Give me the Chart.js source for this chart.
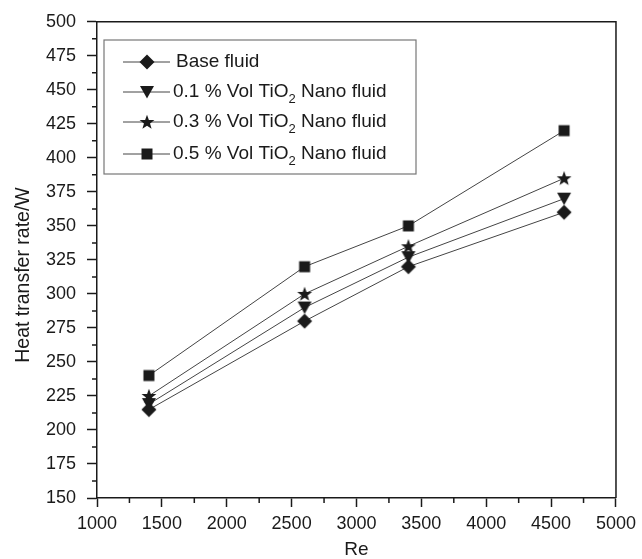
<!DOCTYPE html>
<html>
<head>
<meta charset="utf-8">
<script src="https://cdn.jsdelivr.net/npm/chart.js@4"></script>
<style>
  body { margin: 0; background: #fff; }
  #wrap { width: 642px; height: 559px; }
</style>
</head>
<body>
<div id="wrap"><canvas id="myChart"></canvas></div>
<script>
const reynolds = [1400, 2600, 3400, 4600];

const baseFluid = [215, 280, 320, 360];
const tio2_01 = [219, 290, 327, 370];
const tio2_03 = [225, 300, 335, 385];
const tio2_05 = [240, 320, 350, 420];

const seriesNames = [
  'Base fluid',
  '0.1 % Vol TiO₂ Nano fluid',
  '0.3 % Vol TiO₂ Nano fluid',
  '0.5 % Vol TiO₂ Nano fluid',
];
const seriesShapes = ['diamond', 'triangleDown', 'star', 'square'];

const xTicks = [1000, 1500, 2000, 2500, 3000, 3500, 4000, 4500, 5000];
const yTicks = [150, 175, 200, 225, 250, 275, 300, 325, 350, 375, 400, 425, 450, 475, 500];

const FONT = 'Liberation Sans, Arial, sans-serif';
const INK = '#1a1a1a';

// marker images
function makeMarker(shape) {
  const c = document.createElement('canvas');
  c.width = 20; c.height = 20;
  const g = c.getContext('2d');
  g.fillStyle = INK;
  g.beginPath();
  if (shape === 'diamond') {
    g.moveTo(10, 2.5); g.lineTo(17.5, 10); g.lineTo(10, 17.5); g.lineTo(2.5, 10);
  } else if (shape === 'triangleDown') {
    g.moveTo(3, 4); g.lineTo(17, 4); g.lineTo(10, 16.5);
  } else if (shape === 'square') {
    g.rect(4.5, 4.5, 11, 11);
  } else if (shape === 'star') {
    for (let i = 0; i < 10; i++) {
      const r = i % 2 === 0 ? 7.8 : 3.2;
      const a = -Math.PI / 2 + i * Math.PI / 5;
      const px = 10 + r * Math.cos(a), py = 10.5 + r * Math.sin(a);
      if (i === 0) g.moveTo(px, py); else g.lineTo(px, py);
    }
  }
  g.closePath();
  g.fill();
  return c;
}
const markers = seriesShapes.map(makeMarker);

const values = [baseFluid, tio2_01, tio2_03, tio2_05];

const data = {
  datasets: values.map((vals, i) => ({
    label: seriesNames[i],
    data: reynolds.map((x, j) => ({ x: x, y: vals[j] })),
    borderColor: '#444',
    borderWidth: 1,
    pointStyle: markers[i],
    pointRadius: 9,
    pointHoverRadius: 9,
    showLine: true,
    fill: false,
  }))
};

// frame, minor ticks, y title and legend box
const extras = {
  id: 'extras',
  afterDraw(chart) {
    const ctx = chart.ctx;
    const a = chart.chartArea;
    const xs = chart.scales.x, ys = chart.scales.y;
    ctx.save();
    ctx.strokeStyle = INK;
    ctx.lineWidth = 1.5;
    ctx.beginPath();
    ctx.moveTo(a.left, a.top); ctx.lineTo(a.right, a.top); ctx.lineTo(a.right, a.bottom);
    ctx.stroke();

    // minor ticks
    ctx.beginPath();
    for (let i = 0; i < xTicks.length - 1; i++) {
      const px = xs.getPixelForValue((xTicks[i] + xTicks[i + 1]) / 2);
      ctx.moveTo(px, a.bottom); ctx.lineTo(px, a.bottom + 5);
    }
    for (let i = 0; i < yTicks.length - 1; i++) {
      const py = ys.getPixelForValue((yTicks[i] + yTicks[i + 1]) / 2);
      ctx.moveTo(a.left, py); ctx.lineTo(a.left - 5, py);
    }
    ctx.stroke();

    // y axis title
    ctx.save();
    ctx.translate(24, 275);
    ctx.rotate(-Math.PI / 2);
    ctx.fillStyle = INK;
    ctx.font = '19.5px ' + FONT;
    ctx.textAlign = 'center';
    ctx.textBaseline = 'middle';
    ctx.fillText('Heat transfer rate/W', 0, 0);
    ctx.restore();

    // legend
    const bx = 104, by = 40, bw = 312, bh = 134;
    ctx.strokeStyle = '#777';
    ctx.lineWidth = 1.2;
    ctx.strokeRect(bx, by, bw, bh);
    const rows = [62, 92, 122, 154];
    ctx.textBaseline = 'middle';
    chart.data.datasets.forEach((ds, i) => {
      const y = rows[i];
      ctx.strokeStyle = '#444';
      ctx.lineWidth = 1;
      ctx.beginPath();
      ctx.moveTo(123, y); ctx.lineTo(170, y);
      ctx.stroke();
      const m = markers[i];
      ctx.drawImage(m, 147 - m.width / 2, y - m.height / 2);
      ctx.fillStyle = INK;
      let tx = i === 0 ? 176 : 173;
      const parts = ds.label.split('₂');
      parts.forEach((p, k) => {
        ctx.font = '19px ' + FONT;
        ctx.fillText(p, tx, y);
        tx += ctx.measureText(p).width;
        if (k < parts.length - 1) {
          ctx.font = '13px ' + FONT;
          ctx.fillText('2', tx, y + 7);
          tx += ctx.measureText('2').width;
        }
      });
    });
    ctx.restore();
  }
};

const config = {
  type: 'scatter',
  data: data,
  options: {
    responsive: true,
    maintainAspectRatio: false,
    animation: false,
    layout: { padding: { top: 18, right: 26, left: 0, bottom: 0 } },
    plugins: {
      legend: { display: false },
      tooltip: { enabled: false },
    },
    scales: {
      x: {
        type: 'linear',
        min: 1000,
        max: 5000,
        afterFit: (s) => { s.height = 61; },
        afterBuildTicks: (s) => { s.ticks = xTicks.map(v => ({ value: v })); },
        ticks: { color: INK, font: { family: FONT, size: 18 }, padding: 6, maxRotation: 0,
                 callback: (v) => String(v) },
        grid: { drawOnChartArea: false, tickLength: 9, tickColor: INK, tickWidth: 1.5 },
        border: { color: INK, width: 1.5 },
        title: { display: true, text: 'Re', color: INK, font: { family: FONT, size: 19 }, padding: { top: 0, bottom: -2 } },
      },
      y: {
        type: 'linear',
        min: 150,
        max: 500,
        afterFit: (s) => { s.width = 97; },
        afterBuildTicks: (s) => { s.ticks = yTicks.map(v => ({ value: v })); },
        ticks: { color: INK, font: { family: FONT, size: 18 }, padding: 11,
                 callback: (v) => String(v) },
        grid: { drawOnChartArea: false, tickLength: 10, tickColor: INK, tickWidth: 1.5 },
        border: { color: INK, width: 1.5 },
        title: { display: false },
      }
    }
  },
  plugins: [extras]
};

const myChart = new Chart(document.getElementById('myChart'), config);
</script>
</body>
</html>
